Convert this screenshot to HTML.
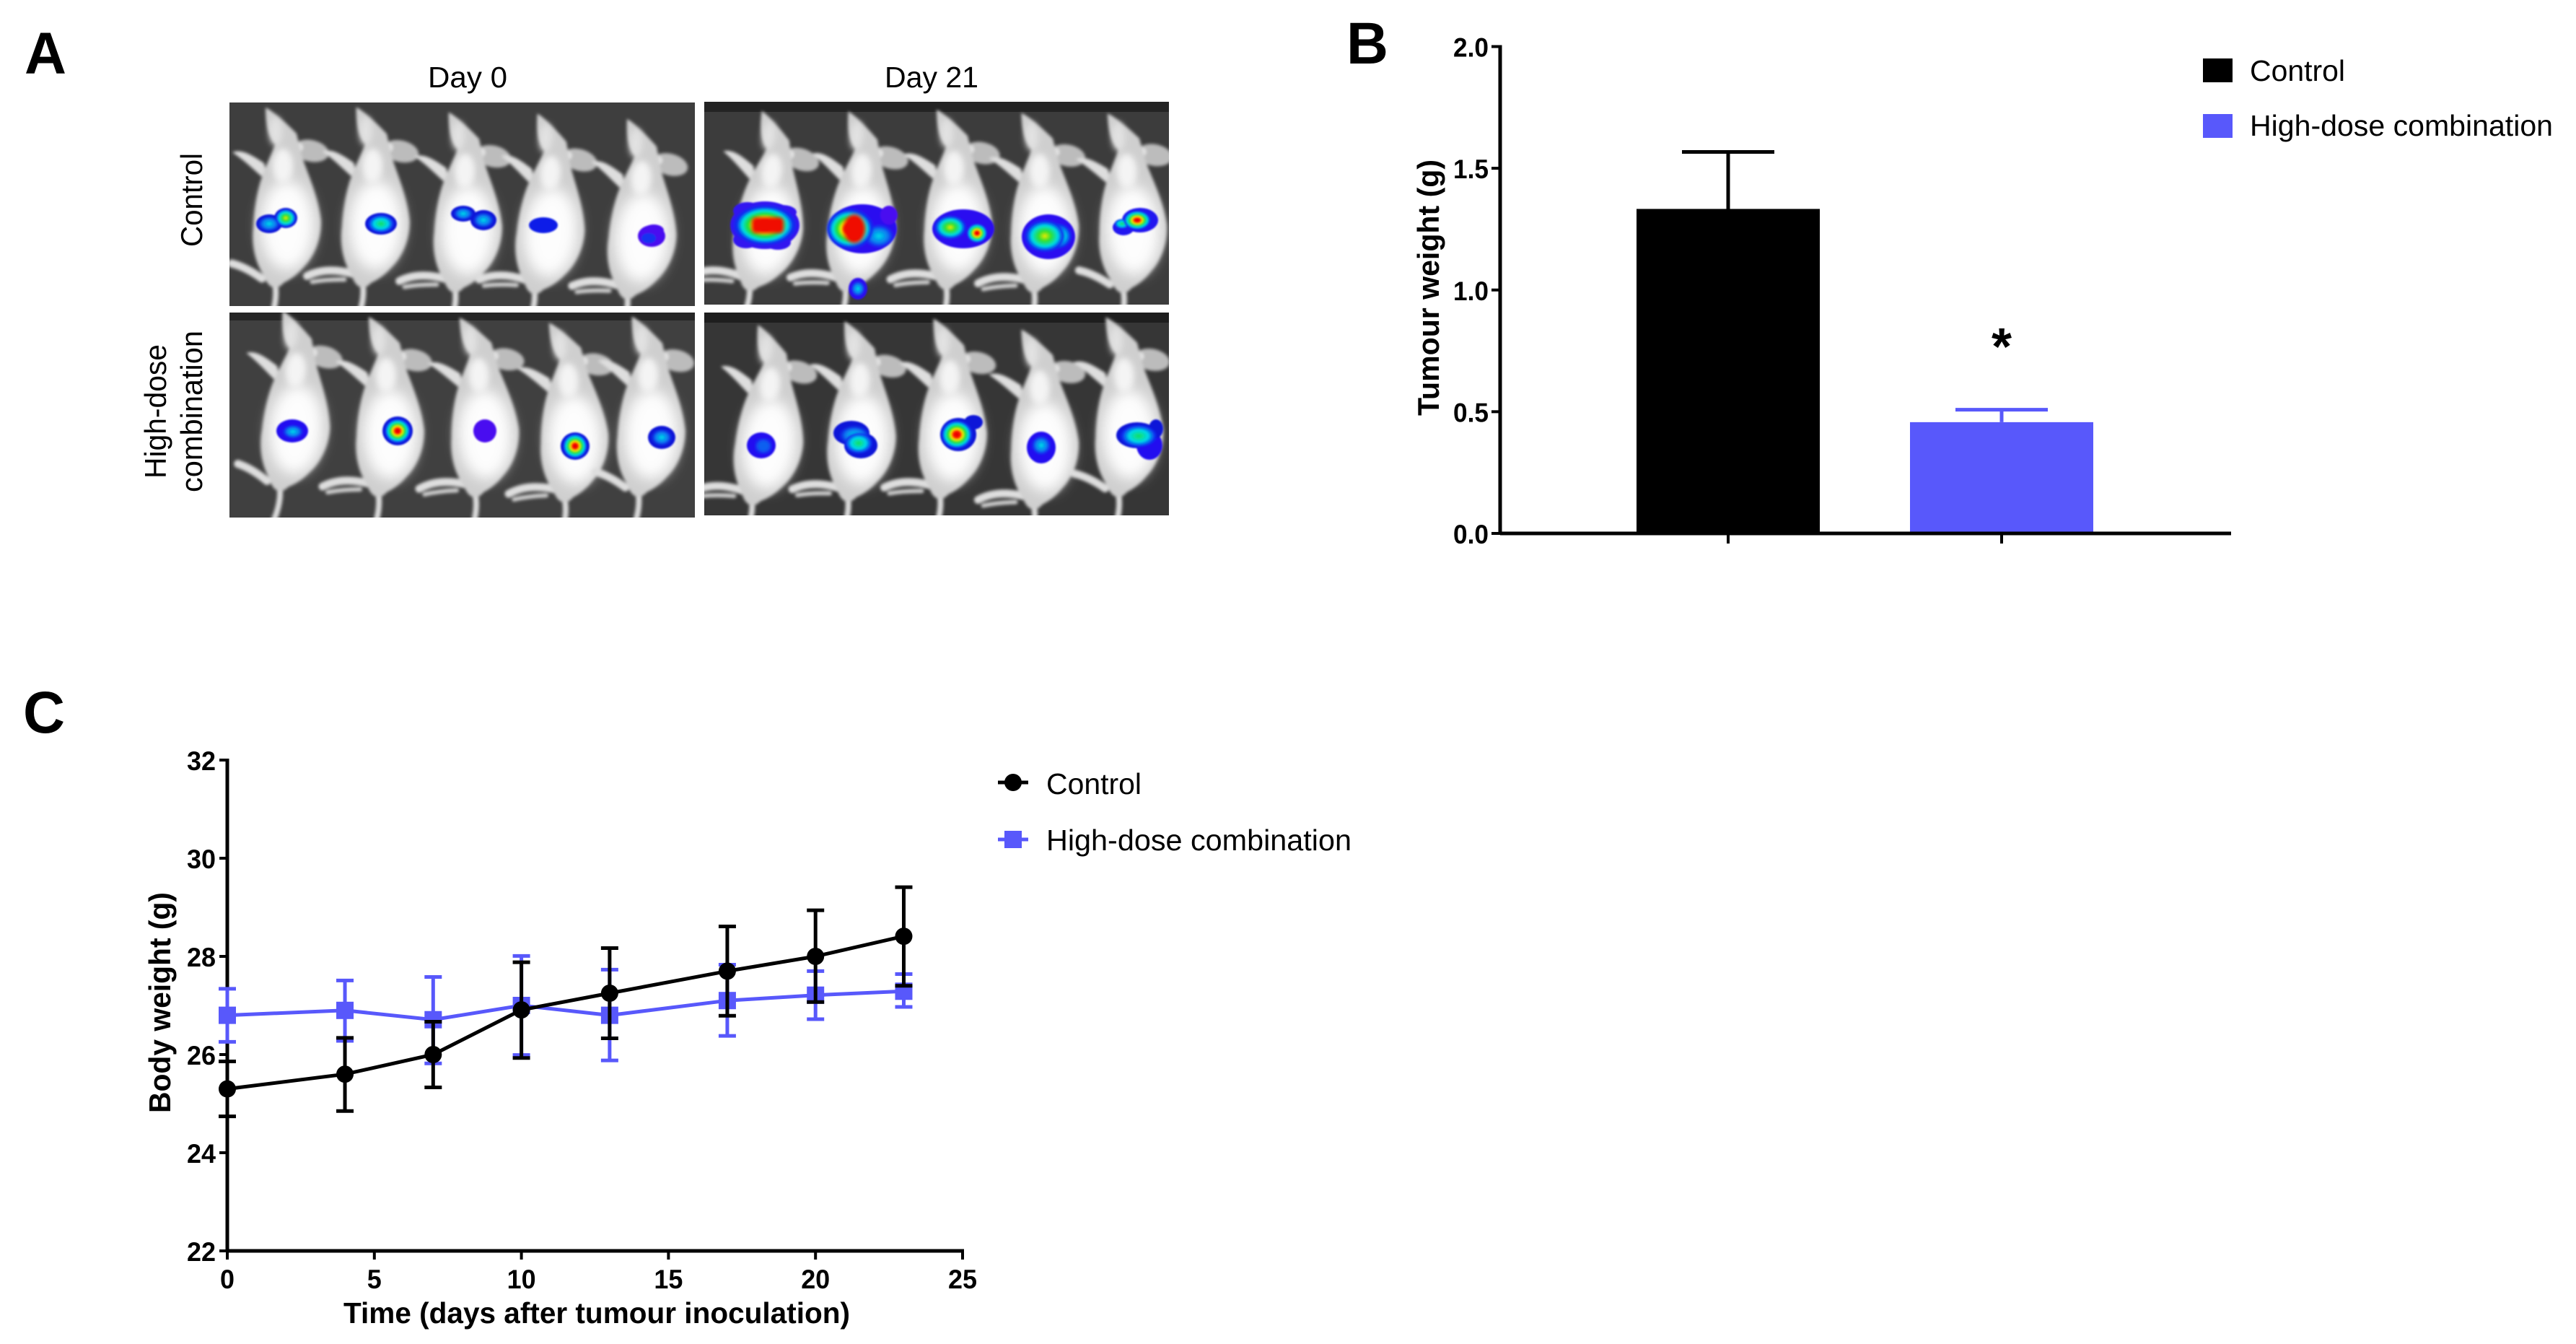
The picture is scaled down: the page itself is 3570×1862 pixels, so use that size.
<!DOCTYPE html>
<html lang="en">
<head>
<meta charset="utf-8">
<title>Tumour imaging, tumour weight and body weight</title>
<style>
html,body{margin:0;padding:0;background:#fff;}
svg{display:block;font-family:"Liberation Sans",Arial,sans-serif;}
</style>
</head>
<body>
<svg id="figure" xmlns="http://www.w3.org/2000/svg" width="3570" height="1862" viewBox="0 0 3570 1862">
<defs>
  <filter id="soft" x="-10%" y="-10%" width="120%" height="120%"><feGaussianBlur stdDeviation="2"/></filter>
  <filter id="soft8" x="-40%" y="-40%" width="180%" height="180%"><feGaussianBlur stdDeviation="9"/></filter>
  <filter id="soft4" x="-40%" y="-40%" width="180%" height="180%"><feGaussianBlur stdDeviation="4"/></filter>
  <filter id="soft1" x="-20%" y="-20%" width="140%" height="140%"><feGaussianBlur stdDeviation="1"/></filter>
  <radialGradient id="hotR"><stop offset="0" stop-color="#e00000"/><stop offset=".22" stop-color="#ff1000"/><stop offset=".36" stop-color="#f0e800"/><stop offset=".52" stop-color="#20e030"/><stop offset=".7" stop-color="#00dce0"/><stop offset=".86" stop-color="#0a30f0"/><stop offset="1" stop-color="#0a30f0" stop-opacity="0"/></radialGradient>
  <radialGradient id="hotY"><stop offset="0" stop-color="#e8e800"/><stop offset=".3" stop-color="#30e030"/><stop offset=".62" stop-color="#00dce0"/><stop offset=".86" stop-color="#0a30f0"/><stop offset="1" stop-color="#0a30f0" stop-opacity="0"/></radialGradient>
  <radialGradient id="hotG"><stop offset="0" stop-color="#10e060"/><stop offset=".5" stop-color="#00d8e8"/><stop offset=".86" stop-color="#0a30f0"/><stop offset="1" stop-color="#0a30f0" stop-opacity="0"/></radialGradient>
  <radialGradient id="hotC"><stop offset="0" stop-color="#00d8e8"/><stop offset=".6" stop-color="#0a70f0"/><stop offset="1" stop-color="#0a30f0" stop-opacity="0"/></radialGradient>
  <g id="mouse">
    <path d="M-16,88 Q-10,110 -20,140" fill="none" stroke="#dcdcdc" stroke-width="8" stroke-linecap="round"/>
    <path d="M-74,-89 C-62,-94 -48,-86 -30,-74 L-24,-48 C-40,-60 -52,-74 -74,-89Z" fill="#dedede"/>
    <ellipse cx="35" cy="-91" rx="25" ry="15" transform="rotate(12 35 -91)" fill="#bcbcbc"/>
    <ellipse cx="18" cy="-96" rx="6" ry="6" fill="#e6e6e6"/>
    <path d="M-28,-151 C-15,-145 5,-125 15,-115 L22,-85 C28,-65 45,-30 49,5 C50,30 40,55 25,70 C15,82 5,88 -3,92 C-13,104 -25,99 -30,82 C-42,65 -48,40 -45,15 C-44,-10 -40,-35 -33,-55 C-28,-70 -20,-85 -15,-100 C-22,-108 -28,-118 -28,-151 Z" fill="#cfcfcf"/>
    <ellipse cx="2" cy="12" rx="37" ry="62" fill="#fdfdfd" filter="url(#soft8)"/>
    <ellipse cx="-4" cy="-70" rx="14" ry="24" fill="#f4f4f4" filter="url(#soft4)"/>
    <ellipse cx="-14" cy="-118" rx="9" ry="20" fill="#e2e2e2" filter="url(#soft4)"/>
  </g>
  <g id="leg-a"><path d="M-75,65 Q-55,70 -33,86" fill="none" stroke="#dedede" stroke-width="11" stroke-linecap="round"/></g>
  <g id="leg-b"><path d="M-92,84 Q-65,70 -28,80" fill="none" stroke="#dedede" stroke-width="11" stroke-linecap="round"/><path d="M-85,92 Q-65,88 -40,88" fill="none" stroke="#cfcfcf" stroke-width="6" stroke-linecap="round"/></g>
  <clipPath id="clip-a1"><rect x="318" y="142" width="645" height="282"/></clipPath>
  <clipPath id="clip-a2"><rect x="976" y="141" width="644" height="281"/></clipPath>
  <clipPath id="clip-a3"><rect x="318" y="433" width="645" height="284"/></clipPath>
  <clipPath id="clip-a4"><rect x="976" y="433" width="644" height="281"/></clipPath>
</defs>
<rect width="3570" height="1862" fill="#fff"/>

<!-- Panel letters -->
<text x="34" y="102" font-size="82" font-weight="bold" textLength="58" lengthAdjust="spacingAndGlyphs">A</text>
<text x="1866" y="88" font-size="82" font-weight="bold" textLength="58" lengthAdjust="spacingAndGlyphs">B</text>
<text x="32" y="1015" font-size="82" font-weight="bold" textLength="58" lengthAdjust="spacingAndGlyphs">C</text>

<!-- Panel A -->
<g>
  <text x="593" y="121" font-size="41" textLength="110" lengthAdjust="spacingAndGlyphs">Day 0</text>
  <text x="1226" y="121" font-size="41" textLength="130" lengthAdjust="spacingAndGlyphs">Day 21</text>
  <text transform="translate(280,342) rotate(-90)" font-size="42" textLength="130" lengthAdjust="spacingAndGlyphs">Control</text>
  <text transform="translate(230,663) rotate(-90)" font-size="42" textLength="186" lengthAdjust="spacingAndGlyphs">High-dose</text>
  <text transform="translate(280,682) rotate(-90)" font-size="42" textLength="224" lengthAdjust="spacingAndGlyphs">combination</text>

  <!-- Control, day 0 -->
  <g clip-path="url(#clip-a1)">
    <rect x="318" y="142" width="645" height="282" fill="#3e3e3e"/>
    <g filter="url(#soft)">
      <g transform="translate(396,300)"><use href="#leg-a"/><use href="#mouse"/></g>
      <g transform="translate(519,300) rotate(1)"><use href="#leg-b"/><use href="#mouse"/></g>
      <g transform="translate(647,307) rotate(1)"><use href="#leg-b"/><use href="#mouse"/></g>
      <g transform="translate(762,310) rotate(4)"><use href="#leg-b"/><use href="#mouse"/></g>
      <g transform="translate(889,317) rotate(3)"><use href="#leg-b"/><use href="#mouse"/></g>
    </g>
    <g filter="url(#soft1)">
      <g><ellipse cx="373" cy="310" rx="18" ry="13" fill="#1018d8"/><ellipse cx="396" cy="302" rx="16" ry="14" fill="#1018d8"/><ellipse cx="373" cy="310" rx="16" ry="11" fill="url(#hotC)"/><ellipse cx="396" cy="302" rx="15" ry="13" fill="url(#hotY)"/></g>
      <g><ellipse cx="528" cy="310" rx="22" ry="15" fill="#1018d8"/><ellipse cx="528" cy="310" rx="19" ry="13" fill="url(#hotG)"/></g>
      <g><ellipse cx="642" cy="296" rx="17" ry="11" fill="#1018d8"/><ellipse cx="670" cy="305" rx="18" ry="14" fill="#1018d8"/><ellipse cx="642" cy="296" rx="14" ry="9" fill="url(#hotC)"/><ellipse cx="670" cy="305" rx="15" ry="11" fill="url(#hotC)"/></g>
      <g><ellipse cx="753" cy="312" rx="20" ry="11" fill="#0a1ce8"/></g>
      <g><ellipse cx="903" cy="327" rx="19" ry="15" fill="#4a10f0"/><ellipse cx="906" cy="319" rx="14" ry="8" fill="#4a10f0"/><ellipse cx="899" cy="330" rx="10" ry="7" fill="#1430f0"/></g>
    </g>
  </g>

  <!-- Control, day 21 -->
  <g clip-path="url(#clip-a2)">
    <rect x="976" y="141" width="644" height="281" fill="#3c3c3c"/>
    <rect x="976" y="141" width="644" height="14" fill="#232323"/>
    <g filter="url(#soft)">
      <g transform="translate(1065,307) rotate(7)"><use href="#leg-b"/><use href="#mouse"/></g>
      <g transform="translate(1193,307) rotate(4)"><use href="#leg-b"/><use href="#mouse"/></g>
      <g transform="translate(1326,303)"><use href="#leg-b"/><use href="#mouse"/></g>
      <g transform="translate(1446,307) rotate(-1)"><use href="#leg-b"/><use href="#mouse"/></g>
      <g transform="translate(1568,307) rotate(-2)"><use href="#leg-a"/><use href="#mouse"/></g>
    </g>
    <g filter="url(#soft1)">
      <g><ellipse cx="1060" cy="312" rx="48" ry="33" fill="#3018f0"/><ellipse cx="1036" cy="292" rx="20" ry="12" fill="#3018f0"/><ellipse cx="1084" cy="294" rx="20" ry="10" fill="#3018f0"/><ellipse cx="1034" cy="332" rx="18" ry="12" fill="#3018f0"/><ellipse cx="1078" cy="336" rx="18" ry="10" fill="#3018f0"/><ellipse cx="1060" cy="312" rx="45" ry="29" fill="url(#hotR)"/><rect x="1042" y="301" width="44" height="22" rx="6" fill="#f00800" filter="url(#soft)"/></g>
      <g><ellipse cx="1195" cy="317" rx="48" ry="34" fill="#2a10f0"/><ellipse cx="1232" cy="298" rx="12" ry="13" fill="#4a10f0"/><ellipse cx="1218" cy="327" rx="22" ry="17" fill="url(#hotC)"/><ellipse cx="1178" cy="317" rx="34" ry="29" fill="url(#hotR)"/><ellipse cx="1184" cy="317" rx="15" ry="20" fill="#f00800" filter="url(#soft)"/></g>
      <g><ellipse cx="1189" cy="400" rx="13" ry="15" fill="#2a10f0"/><ellipse cx="1189" cy="400" rx="10" ry="11" fill="url(#hotC)"/></g>
      <g><ellipse cx="1335" cy="317" rx="43" ry="27" fill="#2a10f0"/><ellipse cx="1317" cy="315" rx="23" ry="17" fill="url(#hotY)"/><ellipse cx="1354" cy="323" rx="15" ry="14" fill="url(#hotR)"/></g>
      <g><ellipse cx="1453" cy="328" rx="37" ry="31" fill="#2a10f0"/><ellipse cx="1466" cy="327" rx="20" ry="18" fill="url(#hotG)"/><ellipse cx="1448" cy="327" rx="29" ry="23" fill="url(#hotY)"/></g>
      <g><ellipse cx="1580" cy="305" rx="25" ry="17" fill="#2018f0"/><ellipse cx="1557" cy="315" rx="15" ry="11" fill="#2018f0"/><ellipse cx="1555" cy="310" rx="11" ry="7" fill="url(#hotG)"/><ellipse cx="1576" cy="305" rx="20" ry="14" fill="url(#hotR)"/></g>
    </g>
  </g>

  <!-- High-dose, day 0 -->
  <g clip-path="url(#clip-a3)">
    <rect x="318" y="433" width="645" height="284" fill="#404040"/>
    <rect x="318" y="433" width="645" height="11" fill="#262626"/>
    <g filter="url(#soft)">
      <g transform="translate(409,583) rotate(4)"><use href="#leg-a"/><use href="#mouse"/></g>
      <g transform="translate(539,590)"><use href="#leg-b"/><use href="#mouse"/></g>
      <g transform="translate(670,590) rotate(-2)"><use href="#leg-b"/><use href="#mouse"/></g>
      <g transform="translate(794,597) rotate(-2)"><use href="#leg-b"/><use href="#mouse"/></g>
      <g transform="translate(901,590) rotate(1)"><use href="#leg-a"/><use href="#mouse"/></g>
    </g>
    <g filter="url(#soft1)">
      <g><ellipse cx="405" cy="597" rx="22" ry="16" fill="#2010f0"/><ellipse cx="406" cy="598" rx="15" ry="10" fill="url(#hotC)"/></g>
      <g><ellipse cx="551" cy="597" rx="21" ry="20" fill="#1018d8"/><ellipse cx="551" cy="597" rx="19" ry="18" fill="url(#hotR)"/></g>
      <g><ellipse cx="672" cy="597" rx="16" ry="16" fill="#4a08f0"/></g>
      <g><ellipse cx="797" cy="618" rx="20" ry="19" fill="#1018d8"/><ellipse cx="797" cy="618" rx="18" ry="18" fill="url(#hotR)"/></g>
      <g><ellipse cx="917" cy="606" rx="19" ry="16" fill="#1018d8"/><ellipse cx="917" cy="606" rx="15" ry="12" fill="url(#hotC)"/></g>
    </g>
  </g>

  <!-- High-dose, day 21 -->
  <g clip-path="url(#clip-a4)">
    <rect x="976" y="433" width="644" height="281" fill="#363636"/>
    <rect x="976" y="433" width="644" height="14" fill="#1e1e1e"/>
    <g filter="url(#soft)">
      <g transform="translate(1065,603) rotate(5)"><use href="#leg-b"/><use href="#mouse"/></g>
      <g transform="translate(1193,597) rotate(2)"><use href="#leg-b"/><use href="#mouse"/></g>
      <g transform="translate(1319,593) rotate(1)"><use href="#leg-b"/><use href="#mouse"/></g>
      <g transform="translate(1446,607) rotate(-1)"><use href="#leg-b"/><use href="#mouse"/></g>
      <g transform="translate(1563,590) rotate(-1)"><use href="#leg-a"/><use href="#mouse"/></g>
    </g>
    <g filter="url(#soft1)">
      <g><ellipse cx="1055" cy="617" rx="20" ry="18" fill="#2010f0"/><ellipse cx="1058" cy="618" rx="10" ry="9" fill="#1060f0" filter="url(#soft)"/></g>
      <g><ellipse cx="1180" cy="600" rx="25" ry="17" fill="#1018d8"/><ellipse cx="1193" cy="617" rx="23" ry="18" fill="#1018d8"/><ellipse cx="1184" cy="603" rx="22" ry="14" fill="url(#hotC)"/><ellipse cx="1190" cy="614" rx="20" ry="15" fill="url(#hotG)"/></g>
      <g><ellipse cx="1328" cy="602" rx="25" ry="23" fill="#1018d8"/><ellipse cx="1349" cy="585" rx="13" ry="10" fill="#1018d8"/><ellipse cx="1326" cy="602" rx="23" ry="21" fill="url(#hotR)"/></g>
      <g><ellipse cx="1443" cy="620" rx="20" ry="22" fill="#2010f0"/><ellipse cx="1443" cy="617" rx="14" ry="14" fill="url(#hotC)"/></g>
      <g><ellipse cx="1576" cy="603" rx="29" ry="18" fill="#1018d8"/><ellipse cx="1593" cy="617" rx="18" ry="20" fill="#2010f0"/><ellipse cx="1602" cy="594" rx="10" ry="13" fill="#1018d8"/><ellipse cx="1578" cy="604" rx="26" ry="16" fill="url(#hotG)"/></g>
    </g>
  </g>
</g>

<!-- Panel B -->
<g id="panel-b">
  <text transform="translate(1994,576) rotate(-90)" font-size="42" font-weight="bold" textLength="355" lengthAdjust="spacingAndGlyphs">Tumour weight (g)</text>
  <text x="2774" y="505" font-size="72" font-weight="bold" text-anchor="middle">*</text>
  <g>
    <rect x="3053" y="81" width="41" height="33" fill="#000"/>
    <text x="3118" y="112" font-size="41" textLength="132" lengthAdjust="spacingAndGlyphs">Control</text>
    <rect x="3053" y="158" width="41" height="33" fill="#5858fb"/>
    <text x="3118" y="188" font-size="41" textLength="420" lengthAdjust="spacingAndGlyphs">High-dose combination</text>
  </g>
</g>

<!-- Panel C -->
<g id="panel-c">
  <text transform="translate(236,1542) rotate(-90)" font-size="42" font-weight="bold" textLength="306" lengthAdjust="spacingAndGlyphs">Body weight (g)</text>
  <text x="476" y="1833" font-size="41" font-weight="bold" textLength="702" lengthAdjust="spacingAndGlyphs">Time (days after tumour inoculation)</text>
  <g>
    <line x1="1383" y1="1084" x2="1425" y2="1084" stroke="#000" stroke-width="5"/>
    <circle cx="1404" cy="1084" r="12" fill="#000"/>
    <text x="1450" y="1100" font-size="41" textLength="132" lengthAdjust="spacingAndGlyphs">Control</text>
    <line x1="1383" y1="1163" x2="1425" y2="1163" stroke="#5858fb" stroke-width="5"/>
    <rect x="1392" y="1151" width="24" height="24" fill="#5858fb"/>
    <text x="1450" y="1178" font-size="41" textLength="423" lengthAdjust="spacingAndGlyphs">High-dose combination</text>
  </g>
</g>

<script>
// Panel B data
var barCategories = ['Control', 'High-dose combination'];
var barValues = [1.333, 0.457];
var barErrors = [0.234, 0.051];
var barColors = ['#000000', '#5858fb'];
var barTicks = [0, 0.5, 1, 1.5, 2];
var barTickLabels = ['0.0', '0.5', '1.0', '1.5', '2.0'];

// Panel C data
var days = [0, 4, 7, 10, 13, 17, 20, 23];
var controlWeight = [25.30, 25.60, 26.00, 26.91, 27.25, 27.70, 28.00, 28.41];
var controlUpper = [25.86, 26.34, 26.67, 27.88, 28.17, 28.61, 28.94, 29.41];
var controlLower = [24.74, 24.85, 25.33, 25.93, 26.33, 26.79, 27.07, 27.40];
var highDoseWeight = [26.80, 26.90, 26.71, 27.00, 26.80, 27.10, 27.21, 27.29];
var highDoseUpper = [27.34, 27.51, 27.58, 28.01, 27.73, 27.83, 27.70, 27.64];
var highDoseLower = [26.26, 26.28, 25.82, 25.99, 25.88, 26.38, 26.72, 26.97];
var weightTicks = [22, 24, 26, 28, 30, 32];
var dayTicks = [0, 5, 10, 15, 20, 25];

var NS = 'http://www.w3.org/2000/svg';
function mk(parent, tag, name, props) {
  var el = document.createElementNS(NS, tag);
  
  
  for (var k in props) { el.setAttribute(k, props[k]); }
  parent.appendChild(el);
  return el;
}
function seg(parent, name, x1, y1, x2, y2, color, w) {
  return mk(parent, 'line', name, {x1: x1, y1: y1, x2: x2, y2: y2, stroke: color, 'stroke-width': w});
}
function label(parent, name, x, y, str, anchor, size, len) {
  var t = mk(parent, 'text', name, {x: x, y: y, 'font-size': size, 'font-weight': 'bold', 'text-anchor': anchor});
  if (len) { t.setAttribute('textLength', len); t.setAttribute('lengthAdjust', 'spacingAndGlyphs'); }
  t.textContent = str;
  return t;
}

// ---- Panel B ----
var yB = function (v) { return 739 - v * 337.25; };
var xB0 = 2079, xBEnd = 3092;
var xBar = function (i) { return 2395 + i * 379; };
var pb = document.getElementById('panel-b');
barValues.forEach(function (v, i) {
  var c = barColors[i], x = xBar(i);
  seg(pb, 'error-stem-' + barCategories[i].toLowerCase().replace(/\s+/g, '-'), x, yB(v), x, yB(v + barErrors[i]), c, 5);
  seg(pb, 'error-cap-' + barCategories[i].toLowerCase().replace(/\s+/g, '-'), x - 64, yB(v + barErrors[i]), x + 64, yB(v + barErrors[i]), c, 5);
  mk(pb, 'rect', 'bar-' + barCategories[i].toLowerCase().replace(/\s+/g, '-'), {x: x - 127, y: yB(v), width: 254, height: yB(0) - yB(v), fill: c});
  seg(pb, 'x-tick-' + (i + 1), x, yB(0), x, yB(0) + 14, '#000', 4);
});
seg(pb, 'y-axis-b', xB0, yB(2) - 2, xB0, yB(0) + 2, '#000', 5);
seg(pb, 'x-axis-b', xB0, yB(0), xBEnd, yB(0), '#000', 5);
barTicks.forEach(function (v, i) {
  seg(pb, 'y-tick-' + barTickLabels[i], xB0 - 12, yB(v), xB0, yB(v), '#000', 4);
  label(pb, 'y-tick-label-' + barTickLabels[i], 2063, yB(v) + 14, barTickLabels[i], 'end', 37, 49);
});

// ---- Panel C ----
var yC = function (v) { return 1733 - (v - 22) * 68; };
var xC = function (d) { return 315 + d * 40.76; };
var pc = document.getElementById('panel-c');
seg(pc, 'y-axis-c', xC(0), yC(32) - 2, xC(0), yC(22) + 2, '#000', 5);
seg(pc, 'x-axis-c', xC(0) - 2, yC(22), xC(25) + 2, yC(22), '#000', 5);
weightTicks.forEach(function (v) {
  seg(pc, 'y-tick-' + v, xC(0) - 11, yC(v), xC(0), yC(v), '#000', 4);
  label(pc, 'y-tick-label-' + v, 299, yC(v) + 14, String(v), 'end', 37, 40);
});
dayTicks.forEach(function (d) {
  seg(pc, 'x-tick-' + d, xC(d), yC(22), xC(d), yC(22) + 12, '#000', 4);
  label(pc, 'x-tick-label-' + d, xC(d), 1785, String(d), 'middle', 37, d < 10 ? 20 : 40);
});

function drawSeries(key, color, vals, up, lo, marker) {
  var g = mk(pc, 'g', 'series-' + key, {});
  days.forEach(function (d, i) {
    var x = xC(d);
    seg(g, key + '-error-stem-day-' + d, x, yC(up[i]), x, yC(lo[i]), color, 5);
    seg(g, key + '-error-cap-top-day-' + d, x - 12, yC(up[i]), x + 12, yC(up[i]), color, 5);
    seg(g, key + '-error-cap-bottom-day-' + d, x - 12, yC(lo[i]), x + 12, yC(lo[i]), color, 5);
  });
  var pts = days.map(function (d, i) { return xC(d) + ',' + yC(vals[i]); }).join(' ');
  mk(g, 'polyline', key + '-line', {points: pts, fill: 'none', stroke: color, 'stroke-width': 5});
  days.forEach(function (d, i) {
    if (marker === 'circle') {
      mk(g, 'circle', key + '-point-day-' + d, {cx: xC(d), cy: yC(vals[i]), r: 12, fill: color});
    } else {
      mk(g, 'rect', key + '-point-day-' + d, {x: xC(d) - 12, y: yC(vals[i]) - 12, width: 24, height: 24, fill: color});
    }
  });
}
drawSeries('high-dose', '#5858fb', highDoseWeight, highDoseUpper, highDoseLower, 'square');
drawSeries('control', '#000000', controlWeight, controlUpper, controlLower, 'circle');
</script>
</svg>
</body>
</html>
